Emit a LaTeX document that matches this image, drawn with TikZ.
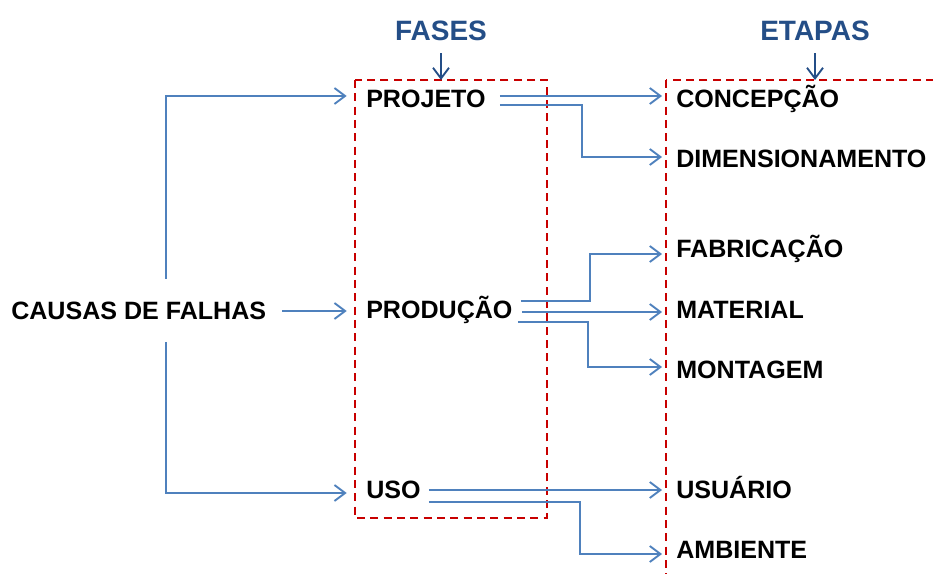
\documentclass[tikz,border=0pt]{standalone}
\usepackage{fontspec}
\setmainfont{Liberation Sans}
\usetikzlibrary{arrows.meta,positioning,calc}
\definecolor{azul}{RGB}{79,129,189}
\definecolor{azulescuro}{RGB}{36,78,135}
\definecolor{vermelho}{RGB}{200,0,0}

\begin{document}
\begin{tikzpicture}[x=0.75pt,y=-0.75pt,
        rotulo/.style={anchor=west,inner sep=0pt,font=\fontsize{18.8}{20}\selectfont\bfseries,text height=13.4pt,text depth=0pt},
        titulo/.style={inner sep=0pt,font=\fontsize{21}{24}\selectfont\bfseries,text=azulescuro,text height=15pt,text depth=0pt},
        seta/.style={draw=azul,line width=1.4pt,-{Straight Barb[length=8pt,width=12pt]}},
        setatitulo/.style={draw=azulescuro,line width=1.4pt,-{Straight Barb[length=8pt,width=12pt]},shorten <=9pt},
        caixa/.style={draw=vermelho,line width=1.5pt,dash pattern=on 6pt off 4pt}]
   \useasboundingbox (0,0) rectangle (933,574);
   \clip (0,0) rectangle (933,574);
   % caixas tracejadas
   \draw[caixa] (355,80) rectangle (547,518);
   \draw[caixa] (666,80) rectangle (960,600);
   \coordinate (topo) at (0,80);
   % titulos
   \node[titulo] (fases) at (441,31) {FASES};
   \node[titulo] (etapas) at (815,31) {ETAPAS};
   % causa
   \node[rotulo] (causas) at (11,311) {CAUSAS DE FALHAS};
   % fases
   \node[rotulo] (projeto) at (366,99) {PROJETO};
   \node[rotulo] (producao) at (366,310) {PRODUÇÃO};
   \node[rotulo] (uso) at (366,490) {USO};
   % etapas
   \node[rotulo] (concepcao) at (676,99) {CONCEPÇÃO};
   \node[rotulo] (dimensionamento) at (676,159) {DIMENSIONAMENTO};
   \node[rotulo] (fabricacao) at (676,249) {FABRICAÇÃO};
   \node[rotulo] (material) at (676,310) {MATERIAL};
   \node[rotulo] (montagem) at (676,370) {MONTAGEM};
   \node[rotulo] (usuario) at (676,490) {USUÁRIO};
   \node[rotulo] (ambiente) at (676,550) {AMBIENTE};
   % setas dos titulos
   \draw[setatitulo] (fases.south) -- (fases.south |- topo);
   \draw[setatitulo] (etapas.south) -- (etapas.south |- topo);
   % causas -> fases
   \coordinate (ramoA) at (166,279);
   \coordinate (ramoB) at (166,342);
   \draw[seta,shorten >=14.5pt] (ramoA) |- ([yshift=2.25pt]projeto.west);
   \draw[seta,shorten <=12pt,shorten >=14.5pt] (causas.east) -- (causas.east -| producao.west);
   \draw[seta,shorten >=14.5pt] (ramoB) |- ([yshift=-2.25pt]uso.west);
   % fases -> etapas
   \coordinate (p1) at ($(projeto.east)+(14,-3)$);
   \coordinate (p2) at ($(projeto.east)+(14,6)$);
   \coordinate (r1) at ($(producao.east)+(8,-9)$);
   \coordinate (r2) at ($(producao.east)+(9,2)$);
   \coordinate (r3) at ($(producao.east)+(5,12)$);
   \coordinate (u1) at ($(uso.east)+(8,0)$);
   \coordinate (u2) at ($(uso.east)+(8,12)$);
   \draw[seta,shorten >=10.5pt] (p1) -- (p1 -| concepcao.west);
   \draw[seta,shorten >=10.5pt] (p2) -- ++(82,0) |- ([yshift=1.5pt]dimensionamento.west);
   \draw[seta,shorten >=10.5pt] (r1) -- ++(69,0) |- ([yshift=-3.75pt]fabricacao.west);
   \draw[seta,shorten >=10.5pt] (r2) -- (r2 -| material.west);
   \draw[seta,shorten >=10.5pt] (r3) -- ++(70,0) |- ([yshift=2.25pt]montagem.west);
   \draw[seta,shorten >=10.5pt] (u1) -- (u1 -| usuario.west);
   \draw[seta,shorten >=10.5pt] (u2) -- ++(151,0) |- ([yshift=-3pt]ambiente.west);
\end{tikzpicture}
\end{document}
